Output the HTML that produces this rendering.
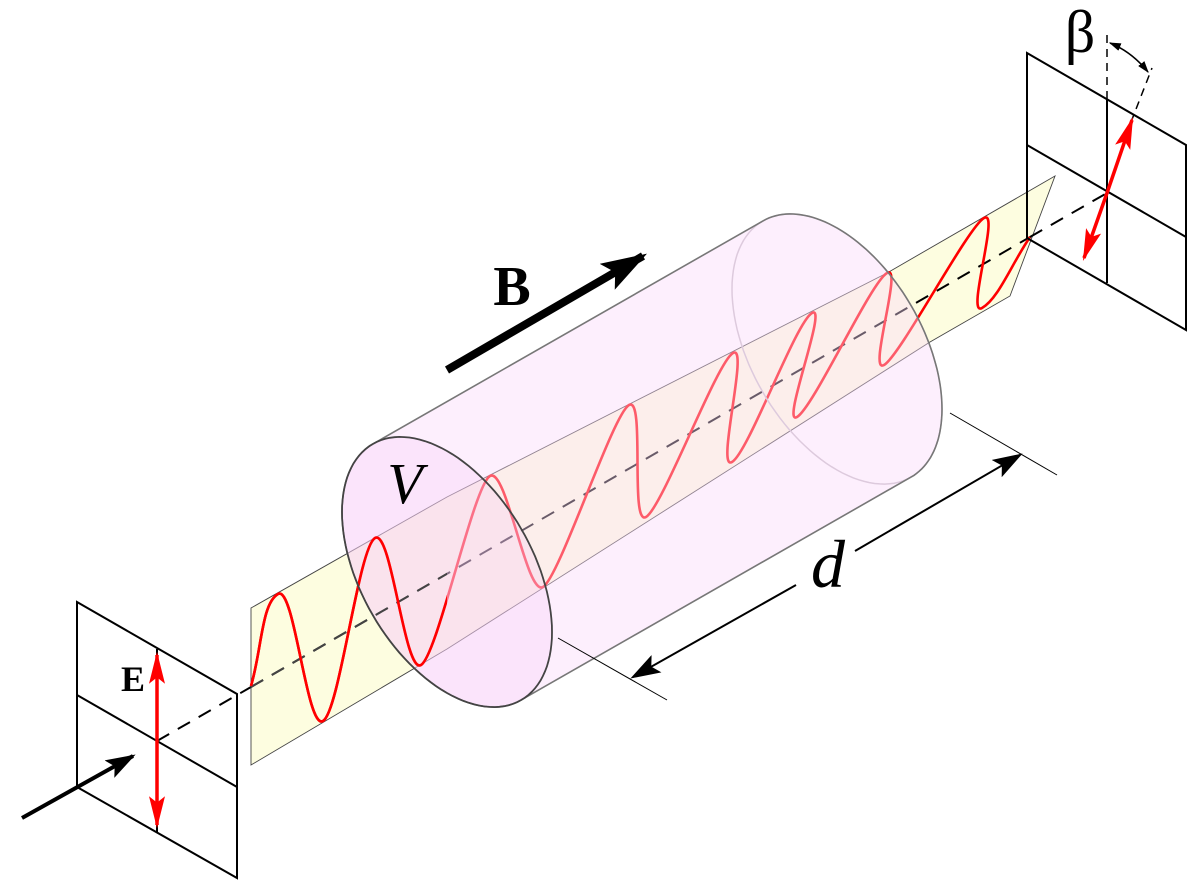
<!DOCTYPE html>
<html><head><meta charset="utf-8"><title>Faraday effect</title>
<style>html,body{margin:0;padding:0;background:#fff}svg{display:block}</style></head>
<body>
<svg id="fig" xmlns="http://www.w3.org/2000/svg" width="1200" height="892" viewBox="0 0 1200 892">
<defs>
<clipPath id="leftClip"><rect x="0" y="0" width="447" height="892"/></clipPath>
<marker id="ah" viewBox="0 0 10 10" refX="9" refY="5" markerWidth="12" markerHeight="8" preserveAspectRatio="none" markerUnits="userSpaceOnUse" orient="auto-start-reverse"><path d="M0,0 L10,5 L0,10 z" fill="#000"/></marker>
<marker id="ahd" viewBox="0 0 10 10" refX="9" refY="5" markerWidth="30" markerHeight="20" preserveAspectRatio="none" markerUnits="userSpaceOnUse" orient="auto-start-reverse"><path d="M0,0 L10,5 L0,10 L2,5 z" fill="#000"/></marker>
<marker id="ahb" viewBox="0 0 10 10" refX="9" refY="5" markerWidth="46" markerHeight="30" preserveAspectRatio="none" markerUnits="userSpaceOnUse" orient="auto-start-reverse"><path d="M0,0 L10,5 L0,10 L2,5 z" fill="#000"/></marker>
<marker id="ahr" viewBox="0 0 10 10" refX="9" refY="5" markerWidth="32" markerHeight="16" preserveAspectRatio="none" markerUnits="userSpaceOnUse" orient="auto-start-reverse"><path d="M0,0 L10,5 L0,10 L2,5 z" fill="#f00"/></marker>
</defs>

<g stroke="#000" stroke-width="2" fill="none">
<polygon points="77,602 237,694 237,878 77,787" fill="#fff"/>
<line x1="157" y1="649" x2="157" y2="833"/>
<line x1="77" y1="695" x2="237" y2="787"/>
</g>
<line x1="157" y1="741" x2="251" y2="687" stroke="#000" stroke-width="2" stroke-dasharray="14,10"/>
<line x1="22" y1="818" x2="133" y2="756" stroke="#000" stroke-width="4" marker-end="url(#ahd)"/>
<line x1="157" y1="741" x2="157" y2="655" stroke="#f00" stroke-width="3.5" marker-end="url(#ahr)"/>
<line x1="157" y1="741" x2="157" y2="825" stroke="#f00" stroke-width="3.5" marker-end="url(#ahr)"/>
<text x="133" y="691" text-anchor="middle" font-family="Liberation Serif, serif" font-weight="bold" font-size="36">E</text>

<polygon points="251,608 447,497 887,273 1055,176 1010,296 930,342 447,649 251,765" fill="#fdfde0" stroke="#444" stroke-width="0.9"/>
<line x1="251" y1="687" x2="1030" y2="237" stroke="#000" stroke-width="2" stroke-dasharray="14,10"/>
<g id="waveG"></g>
<g id="cylG"></g>

<g stroke="#000" stroke-width="2" fill="none">
<polygon points="1027,53 1186,145 1186,330 1027,238"/>
<line x1="1107" y1="100" x2="1107" y2="283"/>
<line x1="1027" y1="145" x2="1186" y2="237"/>
</g>
<line x1="1030" y1="237" x2="1107" y2="193" stroke="#000" stroke-width="2" stroke-dasharray="14,10"/>
<line x1="1107" y1="35" x2="1107" y2="100" stroke="#000" stroke-width="1.5" stroke-dasharray="8,6"/>
<line x1="1131" y1="122" x2="1152" y2="68" stroke="#000" stroke-width="1.5" stroke-dasharray="8,6"/>
<path d="M1110,43 Q1132,52 1148,72" fill="none" stroke="#000" stroke-width="1.5" marker-start="url(#ah)" marker-end="url(#ah)"/>
<text x="1080" y="52" text-anchor="middle" font-family="Liberation Serif, serif" font-size="60">β</text>
<line x1="1107" y1="193" x2="1132" y2="120" stroke="#f00" stroke-width="3.5" marker-end="url(#ahr)"/>
<line x1="1107" y1="193" x2="1084" y2="258" stroke="#f00" stroke-width="3.5" marker-end="url(#ahr)"/>

<line x1="447" y1="370" x2="643" y2="256" stroke="#000" stroke-width="8" marker-end="url(#ahb)"/>
<text x="512" y="305" text-anchor="middle" font-family="Liberation Serif, serif" font-weight="bold" font-size="56">B</text>
<text x="405" y="503" text-anchor="middle" font-family="Liberation Serif, serif" font-style="italic" font-size="58">V</text>

<g stroke="#000">
<line x1="558" y1="638" x2="667" y2="700" stroke-width="1"/>
<line x1="950" y1="413" x2="1057" y2="475" stroke-width="1"/>
<line x1="796" y1="585" x2="633" y2="677" stroke-width="2" marker-end="url(#ahd)"/>
<line x1="855" y1="551" x2="1020" y2="455" stroke-width="2" marker-end="url(#ahd)"/>
</g>
<text x="828" y="587" text-anchor="middle" font-family="Liberation Serif, serif" font-style="italic" font-size="68">d</text>
</svg>
<script>
// wave extremes (screen points)
const waveX = [278,323,375,421,490,543,629,646,733,732,812,797,887,884,984,982];
const waveY = [594,721,538,665,476,587,405,517,353,462,313,417,273,365,218,308];
const waveStart = [251,686];
const waveEnd = [1030,237];

const NS = 'http://www.w3.org/2000/svg';
const ax = [0.867,-0.498];
const h = 19;
function wavePath(){
  let d = 'M'+waveStart[0]+','+waveStart[1];
  let px = waveX[0], py = waveY[0];
  d += ' C'+(waveStart[0]+(px-waveStart[0])*0.4)+','+(waveStart[1]+(py-waveStart[1])*0.4)+' '+(px-h*ax[0])+','+(py-h*ax[1])+' '+px+','+py;
  for(let i=1;i<waveX.length;i++){
    const p0=[waveX[i-1],waveY[i-1]], p1=[waveX[i],waveY[i]];
    d += ' C'+(p0[0]+h*ax[0])+','+(p0[1]+h*ax[1])+' '+(p1[0]-h*ax[0])+','+(p1[1]-h*ax[1])+' '+p1[0]+','+p1[1];
  }
  const L=waveX.length-1, q=[waveX[L],waveY[L]];
  d += ' C'+(q[0]+h*ax[0])+','+(q[1]+h*ax[1])+' '+(waveEnd[0]-(waveEnd[0]-q[0])*0.4)+','+(waveEnd[1]-(waveEnd[1]-q[1])*0.4)+' '+waveEnd[0]+','+waveEnd[1];
  return d;
}
const wg = document.getElementById('waveG');
const w1 = document.createElementNS(NS,'path');


w1.setAttribute('d', wavePath());
w1.setAttribute('fill','none'); w1.setAttribute('stroke','#f00'); w1.setAttribute('stroke-width','2.6');
wg.appendChild(w1);

const F=[447,572], K=[837,349], P=[0,-121], W=[105,60];
function ept(c,t){return [c[0]+P[0]*Math.cos(t)+W[0]*Math.sin(t), c[1]+P[1]*Math.cos(t)+W[1]*Math.sin(t)];}
function arc(c,t0,t1,n){const a=[];for(let i=0;i<=n;i++){a.push(ept(c,t0+(t1-t0)*i/n));}return a;}
const tA=-44.8*Math.PI/180, tB=tA+Math.PI;
const hull = arc(K,tA,tB,80).concat(arc(F,tB,tA+2*Math.PI,80));
const pts = a=>a.map(p=>p[0].toFixed(1)+','+p[1].toFixed(1)).join(' ');
const cg = document.getElementById('cylG');
function add(tag,attrs){const e=document.createElementNS(NS,tag);for(const k in attrs)e.setAttribute(k,attrs[k]);cg.appendChild(e);return e;}
const backE = add('polygon',{points:pts(arc(K,0,2*Math.PI,120)),fill:'none',stroke:'#c8c0c8','stroke-width':'1.5'});


const body = add('polygon',{points:pts(hull),fill:'rgb(250,218,250)','fill-opacity':'0.42',stroke:'none'});


const front = add('polygon',{points:pts(arc(F,0,2*Math.PI,120)),fill:'rgb(245,190,245)','fill-opacity':'0.22',stroke:'none'});


const gl = add('g',{'clip-path':'url(#leftClip)'});


const ax2 = document.createElementNS(NS,'line');
ax2.setAttribute('x1','251');ax2.setAttribute('y1','687');ax2.setAttribute('x2','1030');ax2.setAttribute('y2','237');
ax2.setAttribute('stroke','#444');ax2.setAttribute('stroke-width','2');ax2.setAttribute('stroke-dasharray','14,10');
gl.appendChild(ax2);
const w2 = w1.cloneNode();


gl.appendChild(w2);
const outl = add('polygon',{points:pts(hull),fill:'none',stroke:'#777','stroke-width':'1.6'});


const frontO = add('polygon',{points:pts(arc(F,0,2*Math.PI,120)),fill:'none',stroke:'#444','stroke-width':'1.8'});


</script>
</body></html>
